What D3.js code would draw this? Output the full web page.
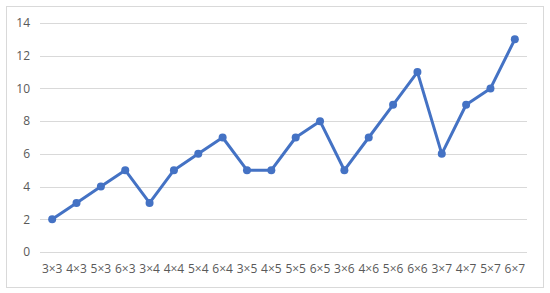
<!DOCTYPE html>
<html>
<head>
<meta charset="utf-8">
<script src="https://cdn.jsdelivr.net/npm/d3@7"></script>
<style>
	body { margin: 0; background: #fff; }
	svg { display: block; font-family: "Open Sans", "DejaVu Sans", sans-serif; }
</style>
</head>
<body>
<svg width="550" height="293"></svg>
<script>
const categories = ["3×3", "4×3", "5×3", "6×3", "3×4", "4×4", "5×4", "6×4", "3×5", "4×5",
	"5×5", "6×5", "3×6", "4×6", "5×6", "6×6", "3×7", "4×7", "5×7", "6×7"];
const values = [2, 3, 4, 5, 3, 5, 6, 7, 5, 5, 7, 8, 5, 7, 9, 11, 6, 9, 10, 13];
const yTicks = [0, 2, 4, 6, 8, 10, 12, 14];

const svg = d3.select("svg");

// chart frame
svg.append("rect")
	.attr("x", 6.5).attr("y", 6.5)
	.attr("width", 537).attr("height", 281)
	.attr("fill", "#fff")
	.attr("stroke", "#d9d9d9");

const plotLeft = 40, plotRight = 527, plotTop = 23, plotBottom = 252;

const x = d3.scaleBand().domain(categories).range([plotLeft, plotRight]);
const y = d3.scaleLinear().domain([0, 14]).range([plotBottom, plotTop]);

// gridlines
svg.append("g")
	.selectAll("line")
	.data(yTicks)
	.join("line")
	.attr("x1", plotLeft).attr("x2", plotRight)
	.attr("y1", (d) => Math.round(y(d)) + 0.5)
	.attr("y2", (d) => Math.round(y(d)) + 0.5)
	.attr("stroke", "#d9d9d9")
	.attr("stroke-width", 1);

// y axis labels
svg.append("g")
	.attr("transform", "translate(" + (plotLeft - 10) + ",0)")
	.call(d3.axisLeft(y).tickValues(yTicks).tickSize(0).tickPadding(0))
	.call((g) => g.select(".domain").remove())
	.call((g) => g.selectAll(".tick text")
		.attr("fill", "#595959")
		.attr("font-size", "12px")
		.attr("font-family", "\"Open Sans\", sans-serif"));

// x axis labels
svg.append("g")
	.attr("transform", "translate(0," + (plotBottom + 12) + ")")
	.call(d3.axisBottom(x).tickSize(0).tickPadding(0))
	.call((g) => g.select(".domain").remove())
	.call((g) => g.selectAll(".tick text")
		.attr("fill", "#595959")
		.attr("font-size", "12px")
		.attr("font-family", "\"Open Sans\", sans-serif"));

const cx = (d, i) => x(categories[i]) + x.bandwidth() / 2;

svg.append("path")
	.datum(values)
	.attr("fill", "none")
	.attr("stroke", "#4472c4")
	.attr("stroke-width", 3)
	.attr("stroke-linejoin", "round")
	.attr("d", d3.line().x(cx).y((d) => y(d)));

svg.append("g")
	.selectAll("circle")
	.data(values)
	.join("circle")
	.attr("cx", cx)
	.attr("cy", (d) => y(d))
	.attr("r", 4)
	.attr("fill", "#4472c4");
</script>
</body>
</html>
